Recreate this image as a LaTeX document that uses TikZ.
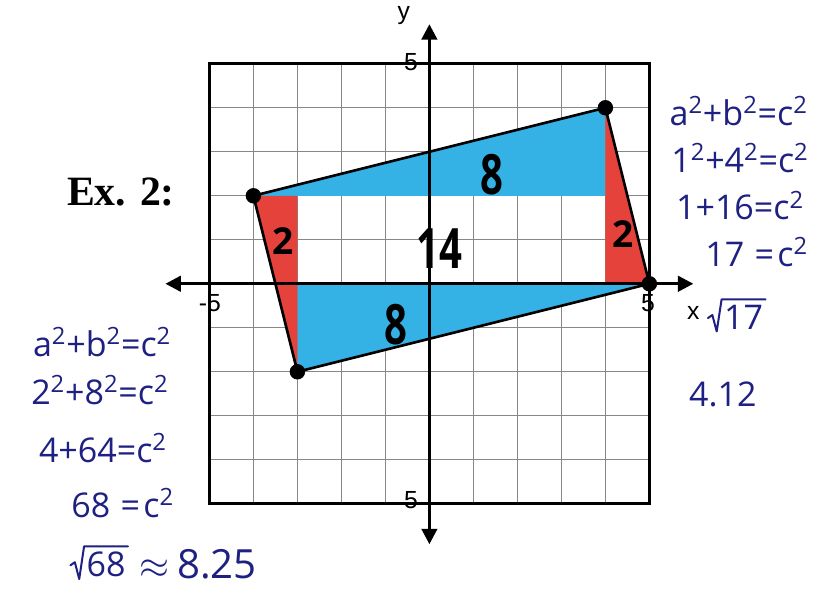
\documentclass[tikz,border=0pt]{standalone}
\usepackage{fontspec}
\setmainfont{Liberation Sans}
\newfontfamily\exfont{Liberation Serif}
\newfontfamily\handfont{Open Sans}
\usepackage{graphicx}
\usepackage{tikz}
\usetikzlibrary{arrows.meta,positioning,calc}
\definecolor{markerblue}{RGB}{52,178,230}
\definecolor{markerred}{RGB}{228,66,58}
\definecolor{inkblue}{RGB}{30,32,130}
\definecolor{gridgray}{RGB}{135,135,135}
\newcommand{\sq}{\textsuperscript{2}}
\tikzset{
  gridline/.style={gridgray,line width=0.9pt},
  frame/.style={line width=1.7pt},
  axis/.style={line width=2pt,{Triangle[length=10pt,width=10pt]}-{Triangle[length=10pt,width=10pt]}},
  side/.style={line width=1.7pt,line join=round},
  dot/.style={circle,fill=black,inner sep=0pt,minimum size=10pt},
  ticklabel/.style={inner sep=0pt,font=\fontsize{16}{18}\selectfont},
  hand/.style={inner sep=0pt,text=inkblue,font=\handfont\fontsize{22}{24}\selectfont},
  rootsign/.style={inkblue,line width=1.3pt,line join=round,line cap=round},
  digit/.style={inner sep=0pt,font=\handfont\bfseries\fontsize{36}{40}\selectfont},
  smalldigit/.style={inner sep=0pt,font=\handfont\bfseries\fontsize{24}{28}\selectfont},
}

\begin{document}
\begin{tikzpicture}
\useasboundingbox (-9.76,-6.98) rectangle (8.81,6.45);

% grid
\draw[gridline] (-5,-5) grid (5,5);
\draw[frame] (-5,-5) rectangle (5,5);

% corners of the parallelogram
\coordinate (A) at (-4,2);
\coordinate (B) at (4,4);
\coordinate (C) at (5,0);
\coordinate (D) at (-3,-2);
\coordinate (ab) at (4,2);
\coordinate (ad) at (-3,2);
\coordinate (bc) at (4,0);
\coordinate (dc) at (-3,0);

% marker fills
\fill[markerblue] (A) -- (B) -- (ab) -- cycle;
\fill[markerblue] (D) -- (C) -- (dc) -- cycle;
\fill[markerred] (A) -- (ad) -- (D) -- cycle;
\fill[markerred] (B) -- (C) -- (bc) -- cycle;

% axes
\coordinate (xl) at (-6,0);
\coordinate (xr) at (6,0);
\coordinate (yb) at (0,-5.92);
\coordinate (yt) at (0,5.9);
\draw[axis] (xl) -- (xr);
\draw[axis] (yb) -- (yt);

\node[ticklabel] (xmin) at (-4.99,-0.45) {-5};
\node[ticklabel] (xmax) at (4.97,-0.45) {5};
\node[ticklabel] (xlab) at (6.0,-0.66) {x};
\node[ticklabel] (ymax) at (-0.42,5.03) {5};
\node[ticklabel] (ymin) at (-0.42,-4.91) {5};
\node[ticklabel] (ylab) at (-0.58,6.1) {y};

% parallelogram
\draw[side] (A) -- (B) -- (C) -- (D) -- cycle;
\foreach \p in {A,B,C,D}
  \node[dot] at (\p) {};

% areas
\node[digit] (topeight) at (1.42,2.48) {\scalebox{0.72}[1]{8}};
\node[digit] (middle) at (0.22,0.8) {\scalebox{0.72}[1]{14}};
\node[digit] (loweight) at (-0.76,-0.93) {\scalebox{0.72}[1]{8}};
\node[smalldigit] (lefttwo) at (-3.33,0.98) {2};
\node[smalldigit] (righttwo) at (4.4,1.14) {2};

\node[inner sep=0pt,font=\exfont\bfseries\fontsize{27}{30}\selectfont] (title) at (-7.01,2.09) {Ex. 2:};

% short side
\node[hand] (r1) at (7.03,3.93) {a\sq+b\sq=c\sq};
\node[hand] (r2) at (7.06,2.86) {1\sq+4\sq=c\sq};
\node[hand] (r3) at (7.06,1.78) {1+16=c\sq};
\node[hand] (r4) at (7.44,0.72) {17\hspace{0.3em}=\hspace{0.1em}c\sq};
\node[hand] (r5) at (7.14,-0.76) {17};
\draw[rootsign] ($(r5.west)+(-0.36,-0.02)$) -- ++(0.1,0.07)
  -- ($(r5.south west)+(-0.16,-0.04)$) -- ($(r5.north west)+(-0.05,0.12)$)
  -- ($(r5.north east)+(0.05,0.12)$);
\node[hand] (r6) at (6.67,-2.52) {4.12};

% long side
\node[hand] (l1) at (-7.44,-1.32) {a\sq+b\sq=c\sq};
\node[hand] (l2) at (-7.49,-2.41) {2\sq+8\sq=c\sq};
\node[hand] (l3) at (-7.42,-3.74) {4+64=c\sq};
\node[hand] (l4) at (-6.97,-4.98) {68\hspace{0.3em}=\hspace{0.1em}c\sq};
\node[hand] (l5) at (-7.35,-6.38) {68};
\draw[rootsign] ($(l5.west)+(-0.36,-0.02)$) -- ++(0.1,0.07)
  -- ($(l5.south west)+(-0.16,-0.04)$) -- ($(l5.north west)+(-0.05,0.12)$)
  -- ($(l5.north east)+(0.05,0.12)$);
\node[hand,font=\handfont\fontsize{26}{28}\selectfont,right=0.3 of l5] (l5b) {$\approx$\hspace{0.2em}8.25};

\end{tikzpicture}
\end{document}
